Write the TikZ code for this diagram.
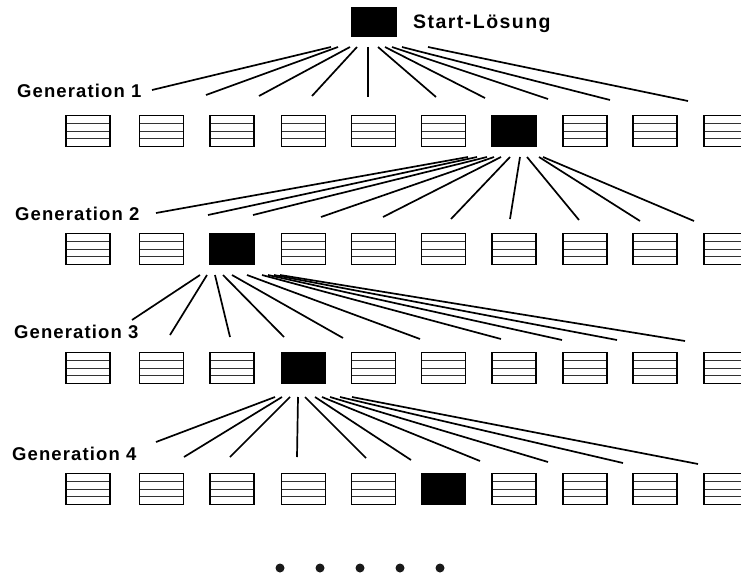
\documentclass[tikz,border=0pt]{standalone}
\usepackage{fontspec}
\setmainfont{Liberation Sans}
\usetikzlibrary{calc}
\tikzset{
  sol/.style={rectangle, draw=black, line width=1.2pt, minimum width=44pt, minimum height=31pt, inner sep=0pt,
    path picture={\foreach \f in {0.25,0.5,0.75}{\draw[line width=0.9pt, black!80]
      ($(path picture bounding box.south west)!\f!(path picture bounding box.north west)$) --
      ($(path picture bounding box.south east)!\f!(path picture bounding box.north east)$);}}},
  best/.style={rectangle, draw=black, fill=black, line width=1.2pt, minimum width=44pt, minimum height=31pt, inner sep=0pt},
  conn/.style={line width=1.7pt, black},
  genlabel/.style={anchor=base west, inner sep=0pt, font=\addfontfeatures{LetterSpace=6}\bfseries\fontsize{18.5}{20}\selectfont},
  dotmark/.style={circle, fill=black!90, minimum size=9pt, inner sep=0pt}
}
\begin{document}
\begin{tikzpicture}[x=1pt,y=-1pt]
\useasboundingbox (0,0) rectangle (741,575);
\clip (0,0) rectangle (741,575);
\fill[white] (0,0) rectangle (741,575);

% start solution
\node[best, minimum height=28pt] (start) at (374,22) {};
\node[anchor=base west, inner sep=0pt, font=\addfontfeatures{LetterSpace=7.5}\bfseries\fontsize{19.5}{22}\selectfont] (startlabel) at (413,29) {Start-Lösung};

% rows of solutions
\foreach \r/\y/\b in {1/131/7, 2/249/3, 3/368/4, 4/489/6}{
  \foreach \c/\x in {1/88, 2/161.5, 3/232, 4/303.5, 5/373.5, 6/443.5, 7/514, 8/585, 9/655, 10/726}{
    \ifnum\c=\b
      \node[best] (r\r c\c) at (\x,\y) {};
    \else
      \node[sol] (r\r c\c) at (\x,\y) {};
    \fi
  }
}

% labels
\node[genlabel] (gen1) at (17,98) {Generation 1};
\node[genlabel] (gen2) at (15,220) {Generation 2};
\node[genlabel] (gen3) at (14,338) {Generation 3};
\node[genlabel] (gen4) at (12,460) {Generation 4};

% Generation 1 connectors
\foreach \i/\sx/\ex/\ey in {1/331/152/90, 2/338/206/95, 3/350/259/96, 4/357/312/96, 5/368/368/97,
                           6/378/436/97, 7/385/485/98, 8/392/548/99, 9/402/610/100, 10/428/688/101}{
  \coordinate (g1s\i) at (\sx,47);
  \coordinate (g1e\i) at (\ex,\ey);
  \draw[conn] (g1s\i) -- (g1e\i);
}

% Generation 2 connectors
\foreach \i/\sx/\ex/\ey in {1/468/156/213, 2/477/208/215, 3/487/253/215, 4/494/321/217, 5/501/383/217,
                           6/510/451/219, 7/520/510/219, 8/527/579/220, 9/539/640/221, 10/543/694/221}{
  \coordinate (g2s\i) at (\sx,157);
  \coordinate (g2e\i) at (\ex,\ey);
  \draw[conn] (g2s\i) -- (g2e\i);
}

% Generation 3 connectors
\foreach \i/\sx/\ex/\ey in {1/200/132/320, 2/207/170/335, 3/215/230/337, 4/223/284/337, 5/232/343/338,
                           6/247/420/339, 7/262/501/339, 8/268/562/340, 9/274/617/340, 10/280/685/341}{
  \coordinate (g3s\i) at (\sx,275);
  \coordinate (g3e\i) at (\ex,\ey);
  \draw[conn] (g3s\i) -- (g3e\i);
}

% Generation 4 connectors
\foreach \i/\sx/\ex/\ey in {1/275/156/442, 2/282/184/457, 3/290/230/457, 4/298/297/457, 5/305/366/458,
                           6/315/411/460, 7/322/480/461, 8/330/548/462, 9/340/623/463, 10/352/698/464}{
  \coordinate (g4s\i) at (\sx,397);
  \coordinate (g4e\i) at (\ex,\ey);
  \draw[conn] (g4s\i) -- (g4e\i);
}

% continuation dots
\foreach \i/\x in {1/280, 2/320, 3/360, 4/400, 5/440}{
  \node[dotmark] (dot\i) at (\x,568) {};
}
\end{tikzpicture}
\end{document}
